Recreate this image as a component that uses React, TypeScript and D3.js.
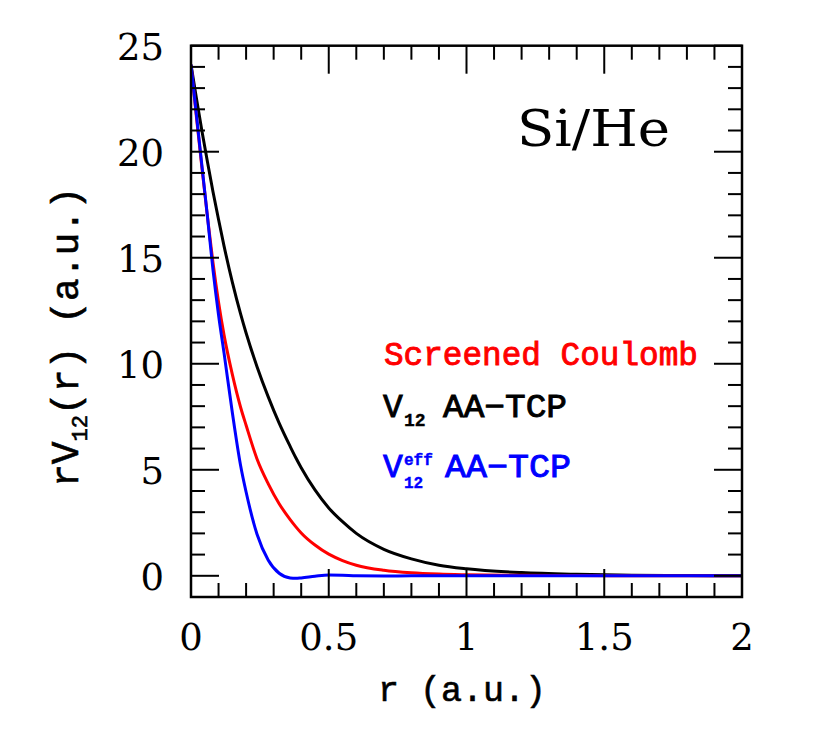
import React from "react";
import * as d3 from "d3";

// radial grid (a.u.)
const rGrid = [0, 0.02, 0.04, 0.06, 0.08, 0.1, 0.12, 0.15, 0.18, 0.2, 0.24, 0.28, 0.32, 0.36, 0.38, 0.4, 0.45, 0.5, 0.55, 0.6, 0.7, 0.8, 0.9, 1.0, 1.2, 1.4, 1.6, 1.8, 2.0];

// V12 AA-TCP (black)
const v12Tcp = [24.1, 22.5, 20.95, 19.5, 18.1, 16.8, 15.55, 13.85, 12.35, 11.45, 9.85, 8.45, 7.2, 6.1, 5.58, 5.1, 4.05, 3.2, 2.55, 2.0, 1.25, 0.8, 0.5, 0.33, 0.15, 0.07, 0.03, 0.01, 0.0];

// Screened Coulomb (red)
const screenedCoulomb = [24.1, 21.6, 19.2, 16.9, 14.75, 12.9, 11.35, 9.5, 7.95, 7.1, 5.5, 4.35, 3.4, 2.65, 2.32, 2.02, 1.45, 1.02, 0.72, 0.5, 0.26, 0.14, 0.08, 0.05, 0.02, 0.01, 0.0, 0.0, 0.0];

// V12eff AA-TCP (blue)
const v12EffTcp = [24.1, 21.7, 19.3, 16.9, 14.4, 12.3, 10.5, 7.7, 5.2, 3.95, 1.95, 0.75, 0.12, -0.1, -0.12, -0.1, -0.02, 0.04, 0.03, 0.0, -0.01, 0.0, 0.0, 0.0, 0.0, 0.0, 0.0, 0.0, 0.0];

const xMajorTicks = [0, 0.5, 1, 1.5, 2];
const xTickLabels = ["0", "0.5", "1", "1.5", "2"];
const yMajorTicks = [0, 5, 10, 15, 20, 25];
const yTickLabels = ["0", "5", "10", "15", "20", "25"];

const W = 830;
const H = 745;

export default function App() {
  const x = d3.scaleLinear().domain([0, 2]).range([191, 742]);
  const y = d3.scaleLinear().domain([-1, 25]).range([597, 45.7]);

  const xMinor = d3.range(0, 2.0001, 0.1).map((v) => +v.toFixed(2));
  const yMinor = d3.range(-1, 25.0001, 1);

  const line = d3
    .line<number>()
    .x((_, i) => x(rGrid[i]))
    .y((d) => y(d))
    .curve(d3.curveMonotoneX);

  const series = [
    { vals: v12Tcp, color: "#000000" },
    { vals: screenedCoulomb, color: "#ff0000" },
    { vals: v12EffTcp, color: "#0000ff" },
  ];

  const x0 = x(0), x1 = x(2), yb = y(-1), yt = y(25);
  const major = 28;
  const minor = 14;
  const serif = "'DejaVu Serif', serif";
  const mono = "'Liberation Mono', monospace";

  return (
    <svg
      width={W}
      height={H}
      style={{ position: "absolute", left: 0, top: 0, background: "#fff" }}
    >
      <defs>
        <clipPath id="plotclip">
          <rect x={x0} y={yt} width={x1 - x0} height={yb - yt} />
        </clipPath>
      </defs>

      {/* curves */}
      <g clipPath="url(#plotclip)">
        {series.map((s, i) => (
          <path key={i} d={line(s.vals) || ""} fill="none" stroke={s.color} strokeWidth={3} strokeLinejoin="round" />
        ))}
      </g>

      {/* ticks */}
      <g stroke="#000" strokeWidth={2}>
        {xMinor.map((v, i) => {
          const isMajor = xMajorTicks.some((m) => Math.abs(m - v) < 1e-6);
          const len = isMajor ? major : minor;
          return (
            <g key={"x" + i}>
              <line x1={x(v)} x2={x(v)} y1={yb} y2={yb - len} />
              <line x1={x(v)} x2={x(v)} y1={yt} y2={yt + len} />
            </g>
          );
        })}
        {yMinor.map((v, i) => {
          const isMajor = yMajorTicks.some((m) => Math.abs(m - v) < 1e-6);
          const len = isMajor ? major : minor;
          return (
            <g key={"y" + i}>
              <line x1={x0} x2={x0 + len} y1={y(v)} y2={y(v)} />
              <line x1={x1} x2={x1 - len} y1={y(v)} y2={y(v)} />
            </g>
          );
        })}
      </g>

      {/* frame */}
      <rect x={x0} y={yt} width={x1 - x0} height={yb - yt} fill="none" stroke="#000" strokeWidth={2.5} />

      {/* tick labels */}
      <g fontFamily={serif} fontSize={37} fill="#000">
        {xMajorTicks.map((v, i) => (
          <text key={"xl" + i} x={x(v)} y={650} textAnchor="middle">
            {xTickLabels[i]}
          </text>
        ))}
        {yMajorTicks.map((v, i) => (
          <text key={"yl" + i} x={164} y={y(v) + 14} textAnchor="end">
            {yTickLabels[i]}
          </text>
        ))}
      </g>

      {/* axis titles */}
      <text x={462} y={701} textAnchor="middle" fontFamily={mono} fontSize={35} fill="#000" stroke="#000" strokeWidth={0.6}>
        r (a.u.)
      </text>
      <text
        transform={`translate(78, 337) rotate(-90)`}
        textAnchor="middle"
        fontFamily={mono}
        fontSize={38}
        fill="#000"
        stroke="#000"
        strokeWidth={0.6}
      >
        rV
        <tspan fontSize={22} dy={9}>12</tspan>
        <tspan dy={-9}>(r) (a.u.)</tspan>
      </text>

      {/* panel label */}
      <text x={517} y={146} fontFamily={serif} fontSize={50} fill="#000" textLength={153} lengthAdjust="spacingAndGlyphs">
        Si/He
      </text>

      {/* legend */}
      <text x={384} y={365} fontFamily={mono} fontSize={33} fill="#ff0000" stroke="#ff0000" strokeWidth={0.9} textLength={314} lengthAdjust="spacingAndGlyphs">
        Screened Coulomb
      </text>
      <g fontFamily={mono} fill="#000" stroke="#000">
        <text x={383} y={417} fontSize={33} strokeWidth={0.9}>V</text>
        <text x={404} y={426} fontSize={18} fontWeight="bold" strokeWidth={0.4}>12</text>
        <text x={443} y={417} fontSize={33} strokeWidth={0.9} textLength={124} lengthAdjust="spacingAndGlyphs">AA−TCP</text>
      </g>
      <g fontFamily={mono} fill="#0000ff" stroke="#0000ff">
        <text x={383} y={477} fontSize={33} strokeWidth={0.9}>V</text>
        <text x={404} y={465} fontSize={16} fontWeight="bold" strokeWidth={0.4}>eff</text>
        <text x={404} y={488} fontSize={16} fontWeight="bold" strokeWidth={0.4}>12</text>
        <text x={445} y={477} fontSize={33} strokeWidth={0.9} textLength={126} lengthAdjust="spacingAndGlyphs">AA−TCP</text>
      </g>
    </svg>
  );
}
